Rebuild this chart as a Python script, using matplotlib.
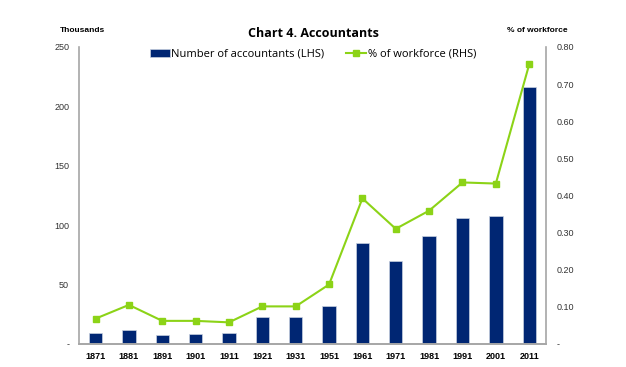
import matplotlib.pyplot as plt
import numpy as np
from matplotlib.ticker import FuncFormatter

years = ['1871', '1881', '1891', '1901', '1911', '1921', '1931', '1951',
         '1961', '1971', '1981', '1991', '2001', '2011']
accountants = [9.5, 11.5, 7.6, 8.7, 9.0, 22.5, 22.5, 32.0,
               84.8, 70.0, 91.0, 105.8, 107.7, 216.3]
pct_workforce = [0.068, 0.105, 0.062, 0.062, 0.058, 0.101, 0.101, 0.160,
                 0.392, 0.310, 0.359, 0.435, 0.432, 0.753]

bar_color = '#002673'
line_color = '#8cd317'
axis_color = '#a6a6a6'

fig = plt.figure(figsize=(6.26, 3.67), dpi=100)
ax = fig.add_axes([0.126, 0.063, 0.746, 0.809])
ax2 = ax.twinx()

x = np.arange(len(years))
ax.bar(x, accountants, width=0.4, color=bar_color, edgecolor='#c8d0e0',
       linewidth=0.5, label='Number of accountants (LHS)', zorder=2)
ax2.plot(x, pct_workforce, color=line_color, linewidth=1.5, marker='s',
         markersize=4.5, label='% of workforce (RHS)', zorder=3)

ax.set_xlim(-0.5, len(years) - 0.5)
ax.set_ylim(0, 250)
ax2.set_ylim(0, 0.8)
ax.set_yticks(np.arange(0, 251, 50))
ax2.set_yticks(np.arange(0, 0.81, 0.1))
ax.yaxis.set_major_formatter(FuncFormatter(lambda v, p: '-' if v == 0 else '%d' % v))
ax2.yaxis.set_major_formatter(FuncFormatter(lambda v, p: '-' if abs(v) < 1e-9 else '%.2f' % v))

ax.set_xticks(x)
ax.set_xticklabels(years, fontsize=6.5, fontweight='bold', family='Liberation Sans')
for a in (ax, ax2):
    a.tick_params(axis='y', length=0, labelsize=6.5, colors='#333333')
    for lab in a.get_yticklabels():
        lab.set_family('Liberation Sans')
    a.spines['top'].set_visible(False)
    for s in ('left', 'right', 'bottom'):
        a.spines[s].set_color(axis_color)
        a.spines[s].set_linewidth(1.2)
ax.tick_params(axis='x', length=0, pad=6)
ax.tick_params(axis='y', pad=7)
ax.spines['right'].set_visible(False)
ax2.spines['left'].set_visible(False)
ax2.tick_params(axis='y', pad=8)

fig.text(0.5, 0.91, 'Chart 4. Accountants', ha='center', va='center',
         fontsize=9, fontweight='bold', family='Open Sans')
fig.text(0.096, 0.916, 'Thousands', ha='left', va='center', fontsize=6,
         fontweight='bold', family='Liberation Sans')
fig.text(0.81, 0.916, '% of workforce', ha='left', va='center', fontsize=6,
         fontweight='bold', family='Liberation Sans')

h1, l1 = ax.get_legend_handles_labels()
h2, l2 = ax2.get_legend_handles_labels()
fig.legend(h1 + h2, l1 + l2, loc='center', bbox_to_anchor=(0.5, 0.852), ncol=2,
           frameon=False, prop={'family': 'Open Sans', 'size': 8},
           handlelength=1.8, handletextpad=0.1, columnspacing=2.0)

fig.savefig('out.png', dpi=100)
